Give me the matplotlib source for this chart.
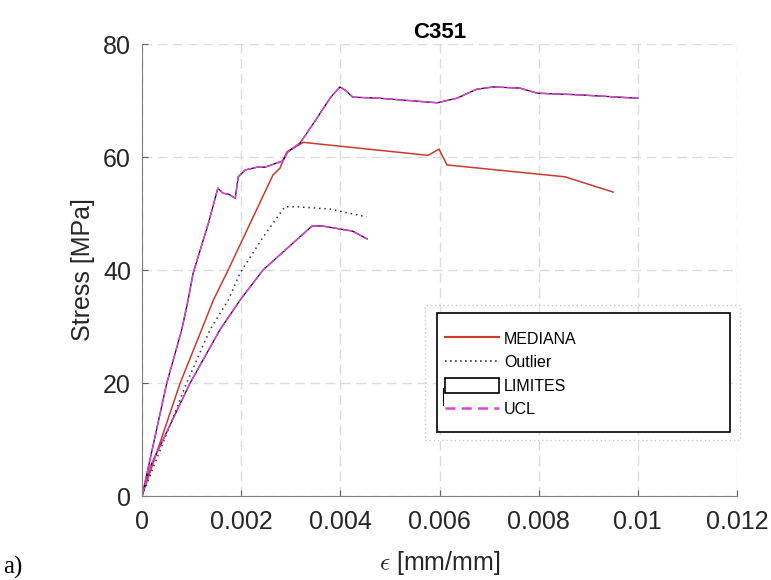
import numpy as np
import matplotlib.pyplot as plt
from matplotlib.lines import Line2D
from matplotlib.patches import Patch, Rectangle

plt.rcParams['font.family'] = ['Liberation Sans', 'DejaVu Sans']
plt.rcParams['mathtext.fontset'] = 'cm'

# curva superior (LIMITES / UCL)
x_sup = [0, 0.0005, 0.0008, 0.00093, 0.00103, 0.00134, 0.00153, 0.00163, 0.00175,
         0.00188, 0.00194, 0.00208, 0.00232, 0.00248, 0.00284, 0.00294, 0.00319,
         0.00353, 0.00379, 0.00399, 0.00409, 0.00425, 0.0048, 0.00595, 0.00635,
         0.00675, 0.00708, 0.00762, 0.00797, 0.00883, 0.01]
y_sup = [0, 20, 29.4, 34.7, 39.4, 48.3, 54.5, 53.6, 53.4,
         52.7, 56.5, 57.7, 58.2, 58.2, 59.3, 60.9, 62.5,
         66.9, 70.4, 72.4, 71.9, 70.6, 70.4, 69.6, 70.4,
         72.0, 72.4, 72.2, 71.3, 71.0, 70.4]

# curva inferior (LIMITES / UCL)
x_inf = [0, 0.00016, 0.00097, 0.00157, 0.00198, 0.00244, 0.00343, 0.00363, 0.00424, 0.00454]
y_inf = [0, 5.1, 20, 29.4, 34.7, 40.0, 47.8, 47.8, 46.9, 45.5]

# mediana
x_med = [0, 0.00077, 0.0012, 0.00144, 0.00171, 0.00264, 0.00278, 0.00292, 0.00325,
         0.00379, 0.00577, 0.00599, 0.00615, 0.00853, 0.0095]
y_med = [0, 20, 29.4, 34.7, 39.5, 56.8, 58.0, 60.9, 62.6,
         62.1, 60.3, 61.4, 58.6, 56.5, 53.8]

# outlier
x_out = [0, 0.0009, 0.00137, 0.00174, 0.00198, 0.00244, 0.00288, 0.00312, 0.00379, 0.00405, 0.00453]
y_out = [0, 20, 29.4, 34.7, 39.5, 45.8, 51.2, 51.2, 50.8, 50.3, 49.4]

x_ticks = [0, 0.002, 0.004, 0.006, 0.008, 0.01, 0.012]
x_labels = ['0', '0.002', '0.004', '0.006', '0.008', '0.01', '0.012']
y_ticks = [0, 20, 40, 60, 80]

rojo = '#cc3a2e'
magenta = '#e03fe0'

fig = plt.figure(figsize=(7.71, 5.8), dpi=100)
ax = fig.add_axes([0.1842, 0.1448, 0.7717, 0.7793])

ax.plot(x_med, y_med, color=rojo, lw=1.1)
ax.plot(x_out, y_out, color='#333340', lw=1.1, ls=(0, (1, 2.5)))
for xs, ys in [(x_sup, y_sup), (x_inf, y_inf)]:
    ax.plot(xs, ys, color='black', lw=0.9)
    ax.plot(xs, ys, color=magenta, lw=1.1, ls=(0, (6, 1.5)))

ax.set_xlim(0, 0.012)
ax.set_ylim(0, 80)
ax.set_xticks(x_ticks)
ax.set_xticklabels(x_labels)
ax.set_yticks(y_ticks)
ax.grid(True, color='#dcdcdc', ls=(0, (7, 4)), lw=1.0)
ax.set_axisbelow(True)
for s in ['top', 'right']:
    ax.spines[s].set_visible(False)
for s in ['left', 'bottom']:
    ax.spines[s].set_color('#808080')
ax.tick_params(direction='in', length=4, color='#606060', labelsize=18,
               labelcolor='#262626')
ax.tick_params(axis='x', pad=10)
ax.tick_params(axis='y', pad=8)

ax.set_title('C351', fontsize=16, fontweight='bold', pad=4)
ax.set_ylabel('Stress [MPa]', fontsize=18, color='#262626', labelpad=6)
ax.set_xlabel(r'$\epsilon$ [mm/mm]', fontsize=18, color='#262626', labelpad=11)

# leyenda
caja = Rectangle((0.496, 0.1416), 0.492, 0.2633, transform=ax.transAxes,
                 facecolor='white', edgecolor='black', lw=1.2, zorder=5, clip_on=False)
ax.add_patch(caja)
fig.add_artist(Rectangle((425 / 771, 1 - 440 / 580), 315 / 771, 135 / 580,
                         facecolor='none', edgecolor='#c8c8c8', lw=1.0,
                         ls=(0, (1, 2)), zorder=4))
handles = [Line2D([], [], color=rojo, lw=1.5),
           Line2D([], [], color='#333340', lw=1.2, ls=(0, (1, 2))),
           Patch(facecolor='white', edgecolor='black', lw=1.2),
           Line2D([], [], color=magenta, lw=1.8, ls=(0, (4, 2.5)))]
labels = ['MEDIANA', 'Outlier', 'LIMITES', 'UCL']
leg = ax.legend(handles, labels, loc='upper left',
                bbox_to_anchor=((445 - 142) / 595, (496 - 331) / 452),
                frameon=False, fontsize=11.5, handlelength=3.4, handleheight=1.05,
                handletextpad=0.3, labelspacing=0.48, borderpad=0, borderaxespad=0)
leg.set_zorder(6)
ax.add_artist(Line2D([(443 - 142) / 595] * 2, [(496 - 388) / 452, (496 - 405) / 452],
                     transform=ax.transAxes, color='black', lw=0.8, zorder=6))

fig.text(0.004, 0.002, 'a)', fontsize=18, family='Liberation Serif', va='bottom')

fig.savefig('out.png', dpi=100)
